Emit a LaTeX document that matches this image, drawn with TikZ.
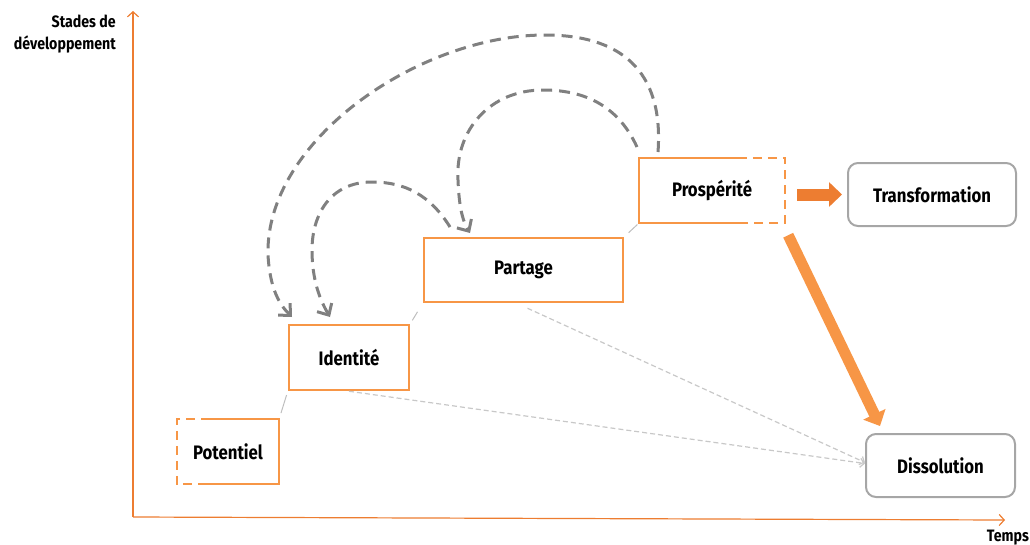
\documentclass[tikz,border=0pt]{standalone}
\usepackage{fontspec}
\setmainfont{Fira Sans}[FakeStretch=0.86]
\usetikzlibrary{arrows.meta,calc}
\definecolor{axisorange}{RGB}{237,125,49}
\definecolor{boxorange}{RGB}{247,150,70}
\definecolor{arcgray}{RGB}{128,128,128}
\definecolor{boxgray}{RGB}{166,166,166}
\definecolor{faintgray}{RGB}{200,200,200}
\definecolor{linkgray}{RGB}{190,190,190}
\begin{document}
\begin{tikzpicture}[x=1pt,y=-1pt,
  lbl/.style={font=\fontsize{19.5}{22}\selectfont\bfseries},
  stagebox/.style={draw=boxorange,line width=2.5pt,inner sep=0pt,lbl},
  openbox/.style={inner sep=0pt,lbl},
  endbox/.style={draw=boxgray,line width=2pt,rounded corners=10pt,inner sep=0pt,lbl},
  solidedge/.style={draw=boxorange,line width=2.5pt},
  dashedge/.style={draw=boxorange,line width=2.5pt,dash pattern=on 9pt off 6pt},
  axis/.style={draw=axisorange,line width=1.2pt,-{Straight Barb[length=5pt,width=11pt,line width=1.2pt]}},
  axislbl/.style={font=\fontsize{16.5}{22}\selectfont\bfseries,align=right,inner sep=0pt},
  loop/.style={draw=arcgray,line width=3pt,dash pattern=on 11pt off 7pt,-{Straight Barb[length=9pt,width=17pt,line width=3pt]}},
  faint/.style={draw=faintgray,line width=1.2pt,dash pattern=on 5pt off 3pt,-{Straight Barb[length=4pt,width=9pt,line width=1.2pt]}},
  link/.style={draw=linkgray,line width=1pt},
  bigarrow/.style={line width=12pt,-{Triangle[length=13pt,width=24pt]}}
]
\useasboundingbox (0,0) rectangle (1030,544);

% axes
\coordinate (origin) at (133,517);
\coordinate (ytip) at (133,11);
\coordinate (xtip) at (1005,520);
\draw[axis] (origin) -- (ytip);
\draw[axis] (origin) -- (xtip);
\node[axislbl,anchor=east] (ylabel) at (116,34) {Stades de\\développement};
\node[axislbl,anchor=north] (xlabel) at (1008,530) {Temps};

% stage boxes
\node[openbox,minimum width=102pt,minimum height=65pt] (pot) at (228,451.5) {Potentiel};
\node[stagebox,minimum width=120pt,minimum height=65pt] (ident) at (349,357.5) {Identité};
\node[stagebox,minimum width=199pt,minimum height=64pt] (part) at (523.5,270) {Partage};
\node[openbox,minimum width=146pt,minimum height=65pt] (prosp) at (712,190.5) {Prospérité};
\node[endbox,minimum width=168pt,minimum height=63pt] (transf) at (932,194.5) {Transformation};
\node[endbox,minimum width=149pt,minimum height=63pt] (dissol) at (940.5,465.5) {Dissolution};

% partially dashed borders
\draw[solidedge] ([xshift=33pt]pot.north west) -- (pot.north east) -- (pot.south east) -- ([xshift=26pt]pot.south west);
\draw[dashedge] ([xshift=33pt]pot.north west) -- (pot.north west) -- (pot.south west) -- ([xshift=26pt]pot.south west);
\draw[solidedge] ([xshift=108pt]prosp.north west) -- (prosp.north west) -- (prosp.south west) -- ([xshift=108pt]prosp.south west);
\draw[dashedge,dash phase=9pt] ([xshift=108pt]prosp.north west) -- (prosp.north east) -- (prosp.south east) -- ([xshift=108pt]prosp.south west);

% stair links
\draw[link,shorten <=6pt,shorten >=4pt] (pot.north east) -- (ident.south west);
\draw[link,shorten <=4pt,shorten >=10pt] (ident.north east) -- (part.south west);
\draw[link,shorten <=6pt,shorten >=2pt] (part.north east) -- (prosp.south west);

% faint dashed arrows to Dissolution
\draw[faint] (ident.south) -- ([yshift=2pt]dissol.west);
\draw[faint] ([shift={(4pt,-5pt)}]part.south) -- ([yshift=3pt]dissol.west);

% big orange arrows
\draw[bigarrow,draw=axisorange] ([xshift=12pt]prosp.east |- transf.west) -- ([xshift=-5pt]transf.west);
\draw[bigarrow,draw=boxorange,line width=11pt] ([shift={(3pt,-12pt)}]prosp.south east) -- ([shift={(15pt,7pt)}]dissol.north west);

% feedback loops
\coordinate (l1s) at (658,152);
\coordinate (l1e) at (292,317);
\draw[loop] (l1s) .. controls (664,70) and (620,35) .. (545,35)
  .. controls (420,35) and (265,140) .. (268,255)
  .. controls (270,290) and (280,305) .. (l1e);
\coordinate (l2s) at (637,147);
\coordinate (l2e) at (470,233);
\draw[loop] (l2s) .. controls (620,110) and (590,90) .. (543,90)
  .. controls (490,90) and (455,130) .. (458,180)
  .. controls (459,205) and (462,220) .. (l2e);
\coordinate (l3s) at (450,227);
\coordinate (l3e) at (330,317);
\draw[loop] (l3s) .. controls (430,195) and (405,182) .. (372,182)
  .. controls (330,182) and (312,215) .. (312,250)
  .. controls (312,280) and (320,300) .. (l3e);
\end{tikzpicture}
\end{document}
